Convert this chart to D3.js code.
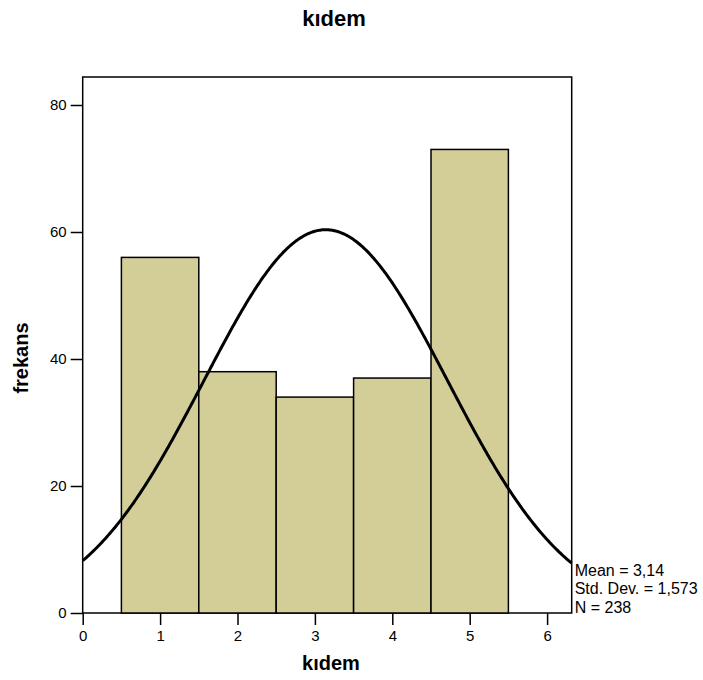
<!DOCTYPE html>
<html><head><meta charset="utf-8">
<script src="https://cdn.jsdelivr.net/npm/d3@7"></script>
<style>body{margin:0;background:#fff;} svg{display:block;font-family:"Liberation Sans",Arial,sans-serif;}</style>
</head><body>
<svg id="c" width="703" height="680"></svg>
<script>
const binCenters = [1, 2, 3, 4, 5];
const counts = [56, 38, 34, 37, 73];
const xTicks = [0, 1, 2, 3, 4, 5, 6];
const yTicks = [0, 20, 40, 60, 80];
const statLines = ["Mean = 3,14", "Std. Dev. = 1,573", "N = 238"];
const mean = 3.14, sd = 1.573, N = 238, binWidth = 1;

const svg = d3.select("#c");
const L = 82.7, R = 571.7, T = 77, B = 613;
const x = d3.scaleLinear().domain([0, 6]).range([L, 547.1]);
const y = d3.scaleLinear().domain([0, 80]).range([B, 105]);
const xMax = x.invert(R);

svg.append("text").attr("x", 334).attr("y", 26).attr("text-anchor", "middle")
  .attr("font-size", 22).attr("font-weight", "bold").text("kıdem");

svg.append("rect").attr("x", L).attr("y", T).attr("width", R - L).attr("height", B - T)
  .attr("fill", "#fff").attr("stroke", "#000").attr("stroke-width", 1.5);

svg.append("g").selectAll("rect").data(binCenters).join("rect")
  .attr("x", (d) => x(d - binWidth / 2)).attr("width", (d) => x(d + binWidth / 2) - x(d - binWidth / 2))
  .attr("y", (d, i) => y(counts[i])).attr("height", (d, i) => y(0) - y(counts[i]))
  .attr("fill", "#d3ce98").attr("stroke", "#000").attr("stroke-width", 1.5);

const curvePts = d3.range(0, 401).map(i => {
  const xv = xMax * i / 400;
  const z = (xv - mean) / sd;
  return [xv, N * binWidth / (sd * Math.sqrt(2 * Math.PI)) * Math.exp(-0.5 * z * z)];
});
svg.append("path").datum(curvePts)
  .attr("d", d3.line().x(d => x(d[0])).y(d => y(d[1])))
  .attr("fill", "none").attr("stroke", "#000").attr("stroke-width", 3);

const xa = svg.append("g").attr("transform", `translate(0,${B})`)
  .call(d3.axisBottom(x).tickValues(xTicks).tickFormat(d3.format("d")).tickSize(12).tickSizeOuter(0).tickPadding(5));
xa.select(".domain").remove();
xa.selectAll("line").attr("stroke-width", 1.5);
xa.selectAll("text").attr("font-size", 15).attr("font-family", "Liberation Sans, Arial, sans-serif");

const ya = svg.append("g").attr("transform", `translate(${L},0)`)
  .call(d3.axisLeft(y).tickValues(yTicks).tickFormat(d3.format("d")).tickSize(12).tickSizeOuter(0).tickPadding(4));
ya.select(".domain").remove();
ya.selectAll("line").attr("stroke-width", 1.5);
ya.selectAll("text").attr("font-size", 15).attr("font-family", "Liberation Sans, Arial, sans-serif");

svg.append("text").attr("x", 331).attr("y", 670).attr("text-anchor", "middle")
  .attr("font-size", 20).attr("font-weight", "bold").text("kıdem");
svg.append("text").attr("transform", "translate(28,358) rotate(-90)").attr("text-anchor", "middle")
  .attr("font-size", 20).attr("font-weight", "bold").text("frekans");

svg.append("g").selectAll("text").data(statLines).join("text")
  .attr("x", R + 3).attr("y", (d, i) => 576 + i * 18.3)
  .attr("font-size", 16).text(d => d);
</script>
</body></html>
